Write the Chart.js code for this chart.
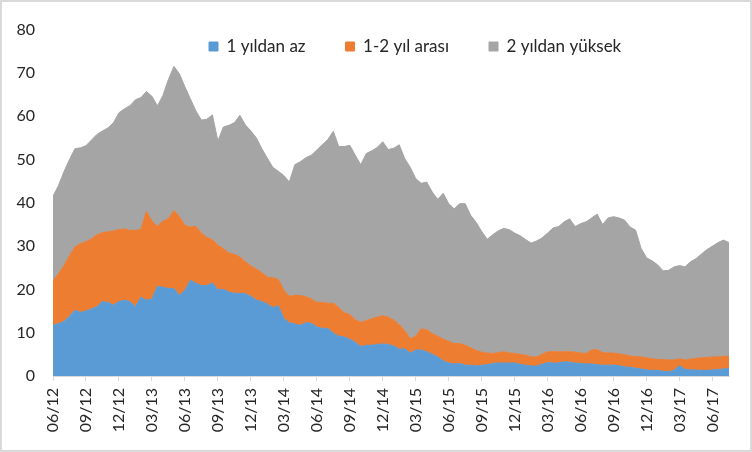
<!DOCTYPE html>
<html>
<head>
<meta charset="utf-8">
<script src="https://cdn.jsdelivr.net/npm/chart.js@4/dist/chart.umd.min.js"></script>
<style>
  html, body { margin: 0; padding: 0; background: #fff; }
  #kutu { width: 752px; height: 452px; box-sizing: border-box; border: 2px solid #d9d9d9; background: #fff; }
</style>
</head>
<body>
<div id="kutu"><canvas id="grafik" width="748" height="448"></canvas></div>
<script>
// ================= VERİ =================
// yarım aylık gözlemler, 06/12 - 08/17
const ceyrekEtiketleri = ['06/12','09/12','12/12','03/13','06/13','09/13','12/13','03/14','06/14','09/14','12/14',
                          '03/15','06/15','09/15','12/15','03/16','06/16','09/16','12/16','03/17','06/17'];
const seriAdlari = ['1 yıldan az', '1-2 yıl arası', '2 yıldan yüksek'];

const birYildanAz = [
  11.7, 12.1, 12.6, 13.8, 15.2, 14.7, 15.0, 15.5, 16.0, 17.2,
  17.0, 16.4, 17.2, 17.5, 17.2, 16.0, 18.2, 17.5, 17.8, 20.7,
  20.5, 20.2, 20.2, 18.6, 19.8, 22.1, 21.4, 20.9, 20.9, 21.5,
  19.9, 20.0, 19.4, 19.1, 19.1, 19.0, 18.4, 17.5, 17.2, 16.6,
  15.8, 16.2, 13.3, 12.3, 12.0, 11.7, 12.3, 12.2, 11.3, 11.0,
  11.0, 9.9, 9.2, 9.0, 8.5, 7.8, 6.8, 7.1, 7.1, 7.3,
  7.4, 7.3, 6.9, 6.2, 6.3, 5.3, 6.0, 6.0, 5.6, 5.0,
  4.4, 3.5, 3.0, 2.8, 2.9, 2.5, 2.5, 2.3, 2.5, 2.6,
  2.9, 3.0, 3.0, 3.0, 3.0, 2.7, 2.5, 2.3, 2.3, 2.7,
  3.1, 3.0, 3.0, 3.3, 3.2, 3.0, 2.9, 2.8, 2.8, 2.6,
  2.5, 2.5, 2.5, 2.4, 2.1, 2.0, 1.8, 1.6, 1.4, 1.3,
  1.3, 1.1, 1.0, 1.3, 2.4, 1.5, 1.4, 1.4, 1.3, 1.3,
  1.4, 1.5, 1.6, 1.8
];
const birIkiYilArasi = [
  10.3, 11.5, 12.9, 14.0, 14.6, 15.9, 16.0, 16.2, 16.6, 15.9,
  16.3, 17.1, 16.6, 16.5, 16.4, 17.6, 15.7, 20.5, 18.0, 13.8,
  15.3, 16.1, 18.0, 18.2, 15.0, 12.3, 13.2, 12.1, 11.1, 10.0,
  10.3, 9.4, 9.0, 9.0, 8.4, 7.4, 7.0, 7.2, 6.7, 6.2,
  6.9, 6.1, 6.5, 6.1, 6.6, 6.9, 6.0, 5.6, 5.7, 6.0,
  5.8, 6.9, 6.6, 5.6, 5.7, 5.2, 5.6, 5.7, 6.1, 6.3,
  6.5, 6.3, 6.0, 5.7, 4.2, 3.3, 3.2, 4.9, 5.1, 4.8,
  4.8, 5.0, 5.0, 4.7, 4.6, 4.6, 4.0, 3.6, 3.0, 2.7,
  2.3, 2.4, 2.6, 2.3, 2.2, 2.3, 2.3, 2.1, 2.1, 2.3,
  2.5, 2.6, 2.6, 2.3, 2.4, 2.5, 2.4, 2.4, 3.2, 3.5,
  2.9, 2.8, 2.8, 2.7, 2.8, 2.6, 2.7, 2.8, 2.8, 2.7,
  2.5, 2.7, 2.7, 2.4, 1.6, 2.2, 2.5, 2.7, 2.9, 3.0,
  3.0, 2.9, 2.9, 2.8
];
const ikiYildanYuksek = [
  19.5, 20.4, 21.7, 22.2, 22.7, 22.1, 22.2, 22.8, 23.2, 23.5,
  24.0, 25.0, 27.0, 27.7, 28.8, 30.2, 30.4, 27.7, 28.8, 27.9,
  29.0, 32.2, 33.3, 33.0, 32.0, 29.6, 26.6, 26.1, 27.3, 28.8,
  24.1, 28.1, 29.5, 30.4, 32.7, 31.6, 31.2, 30.3, 28.6, 27.5,
  25.5, 25.0, 26.5, 26.4, 30.2, 30.9, 32.1, 33.2, 35.2, 36.4,
  37.8, 39.7, 37.2, 38.4, 39.1, 38.0, 36.4, 38.6, 38.8, 39.2,
  40.2, 38.7, 39.7, 41.5, 39.7, 39.6, 36.4, 33.6, 34.1, 32.7,
  31.6, 33.7, 31.8, 31.1, 32.3, 32.7, 30.6, 29.6, 27.9, 26.3,
  27.4, 28.1, 28.5, 28.5, 27.8, 27.4, 26.7, 26.3, 26.8, 26.9,
  27.4, 28.6, 28.9, 30.0, 30.7, 29.0, 29.9, 30.4, 30.5, 31.3,
  29.6, 31.2, 31.5, 31.4, 31.1, 29.8, 29.2, 25.1, 23.1, 22.6,
  21.9, 20.5, 20.7, 21.5, 21.5, 21.5, 22.5, 23.0, 24.0, 24.9,
  25.6, 26.4, 26.9, 26.2
];

const renkler = ['#5B9BD5', '#ED7D31', '#A5A5A5'];
const yaziRengi = '#262626';
const eksenRengi = '#d9d9d9';
const NOKTA_CEYREK = 6; // çeyrek başına gözlem sayısı

// ================= GRAFİK =================

// x ekseni: gözlem sırası (yarım ay)
const noktalar = (seri) => seri.map((v, i) => ({ x: i, y: v }));

// Lejant yer kaplamasın, çizim alanının üstünde orijinaldeki yerine otursun
const lejantKonumu = {
  id: 'lejantKonumu',
  beforeLayout(chart) {
    const lg = chart.legend;
    if (lg && !lg._sabitlendi) {
      const asilFit = lg.fit;
      lg.fit = function () { asilFit.call(this); this.height = 0; };
      lg._sabitlendi = true;
    }
  },
  afterLayout(chart) {
    const lg = chart.legend;
    const pad = lg.options.labels.padding;
    const w = lg.right - lg.left;
    lg.left = 207 - pad;
    lg.right = lg.left + w;
    lg.top = 36 - pad;
    lg.bottom = 36 + 30;   // çizim kırpması için
    lg.height = lg.bottom - lg.top;
  }
};

const seriler = [birYildanAz, birIkiYilArasi, ikiYildanYuksek];

new Chart(document.getElementById('grafik'), {
  type: 'line',
  data: {
    datasets: seriler.map((seri, k) => ({
      label: seriAdlari[k],
      data: noktalar(seri),
      backgroundColor: renkler[k],
      borderColor: renkler[k],
      borderWidth: 1,
      pointRadius: 0,
      tension: 0,
      fill: k === 0 ? 'origin' : '-1'
    }))
  },
  options: {
    responsive: false,
    animation: false,
    devicePixelRatio: 1,
    layout: { padding: { top: 25, right: 21, bottom: 0, left: 0 } },
    plugins: {
      tooltip: { enabled: false },
      legend: {
        position: 'top',
        align: 'start',
        labels: {
          boxWidth: 9,
          boxHeight: 9,
          padding: 40,
          color: yaziRengi,
          font: { family: 'Lato', size: 17 }
        }
      }
    },
    scales: {
      x: {
        type: 'linear',
        min: 0,
        max: birYildanAz.length - 1,
        grid: { display: true, drawOnChartArea: false, drawTicks: true, tickLength: 5, color: eksenRengi },
        border: { display: true, color: eksenRengi },
        ticks: {
          stepSize: NOKTA_CEYREK,
          includeBounds: false,
          autoSkip: false,
          minRotation: 90,
          maxRotation: 90,
          padding: 7,
          color: yaziRengi,
          font: { family: 'Lato', size: 16 },
          callback: (v) => (v % NOKTA_CEYREK === 0 ? ceyrekEtiketleri[v / NOKTA_CEYREK] : null)
        },
        afterFit: (scale) => { scale.height = 74; }
      },
      y: {
        stacked: true,
        min: 0,
        max: 80,
        grid: { display: false, drawTicks: false },
        border: { display: false },
        ticks: {
          stepSize: 10,
          padding: 18,
          color: yaziRengi,
          font: { family: 'Lato', size: 16 }
        },
        afterFit: (scale) => { scale.width = 51; }
      }
    }
  },
  plugins: [lejantKonumu]
});
</script>
</body>
</html>
